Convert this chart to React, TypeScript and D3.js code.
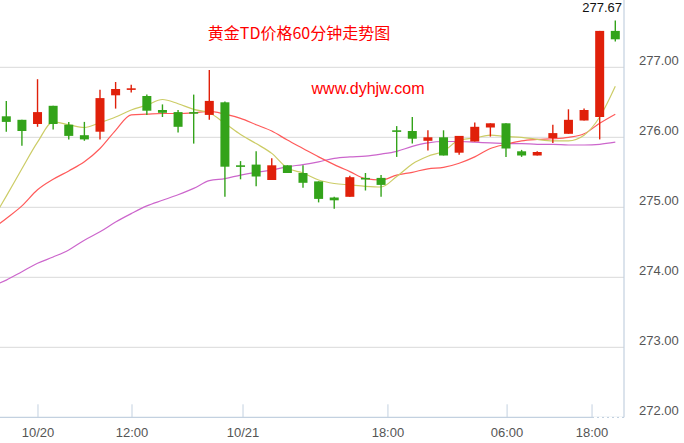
import React from "react";
import * as d3 from "d3";

// OHLC per 60-minute bar
const opens = [276.30, 276.25, 276.19, 276.45, 276.18, 276.03, 276.08, 276.60, 276.68, 276.59,
  276.39, 276.36, 276.36, 276.32, 276.50, 275.60, 275.61, 275.39, 275.60, 275.49,
  275.37, 275.14, 275.15, 275.42, 275.42, 276.10, 276.09, 275.95, 276.00, 275.78,
  275.94, 276.14, 276.20, 275.80, 275.74, 275.99, 276.05, 276.24, 276.29, 277.52];
const highs = [276.52, 276.25, 276.83, 276.45, 276.22, 276.22, 276.68, 276.79, 276.75, 276.61,
  276.47, 276.39, 276.61, 276.96, 276.51, 275.66, 275.80, 275.70, 275.60, 275.60,
  275.37, 275.15, 275.45, 275.49, 275.46, 276.16, 276.29, 276.10, 276.10, 276.02,
  276.21, 276.20, 276.20, 275.82, 275.80, 276.18, 276.40, 276.41, 277.52, 277.67];
const lows = [276.08, 275.88, 276.15, 276.11, 275.97, 275.95, 275.97, 276.41, 276.64, 276.32,
  276.29, 276.07, 275.91, 276.25, 275.15, 275.40, 275.30, 275.39, 275.49, 275.28,
  275.07, 274.98, 275.15, 275.24, 275.15, 275.72, 275.91, 275.81, 275.74, 275.75,
  275.94, 276.01, 275.72, 275.72, 275.74, 275.92, 276.05, 276.24, 275.97, 277.37];
const closes = [276.22, 276.09, 276.36, 276.19, 276.02, 275.97, 276.56, 276.69, 276.70, 276.38,
  276.35, 276.15, 276.34, 276.52, 275.58, 275.58, 275.44, 275.60, 275.49, 275.35,
  275.12, 275.10, 275.43, 275.41, 275.32, 276.08, 275.98, 276.00, 275.74, 276.02,
  276.15, 276.20, 275.84, 275.74, 275.79, 276.06, 276.25, 276.39, 277.52, 277.40];

// moving averages as drawn (first value is the bar just left of the window)
const ma5 = [274.78, 275.16, 275.55, 275.93, 276.22, 276.18, 276.14, 276.21, 276.29, 276.39,
  276.46, 276.54, 276.48, 276.40, 276.35, 276.20, 276.04, 275.91, 275.77, 275.56, 275.49,
  275.39, 275.34, 275.32, 275.30, 275.29, 275.44, 275.62, 275.73, 275.80, 275.96,
  275.99, 276.03, 276.01, 276.00, 275.97, 275.95, 275.95, 276.03, 276.29, 276.73];
const ma10 = [274.67, 274.84, 275.02, 275.25, 275.40, 275.52, 275.65, 275.84, 276.10, 276.32,
  276.33, 276.34, 276.34, 276.35, 276.37, 276.33, 276.27, 276.18, 276.09, 275.96, 275.84,
  275.72, 275.61, 275.51, 275.41, 275.39, 275.46, 275.50, 275.55, 275.57, 275.63,
  275.72, 275.84, 275.90, 275.95, 275.97, 275.98, 276.00, 276.05, 276.20, 276.33];
const ma20 = [273.87, 273.96, 274.08, 274.20, 274.29, 274.39, 274.53, 274.65, 274.79, 274.91,
  275.02, 275.10, 275.18, 275.27, 275.38, 275.41, 275.46, 275.50, 275.53, 275.58, 275.61,
  275.65, 275.70, 275.72, 275.73, 275.76, 275.80, 275.87, 275.92, 275.94, 275.94,
  275.93, 275.92, 275.91, 275.91, 275.90, 275.90, 275.89, 275.89, 275.90, 275.93];

const yTicks = [272, 273, 274, 275, 276, 277];
const xTickLabels = ["10/20", "12:00", "10/21", "18:00", "06:00", "18:00"];
const xTickPos = [2.03, 8.05, 15.16, 24.44, 32.07, 37.51]; // in bar units

const W = 684;
const H = 443;
const axisX = 624;
const axisY = 417.3;

const UP = "#e0200a";
const DOWN = "#33a31a";
const numFont = "'Liberation Sans', Arial, sans-serif";

export default function App() {
  const x = d3.scaleLinear().domain([0, opens.length - 1]).range([6.3, 615.3]);
  const y = d3.scaleLinear().domain([272, 277]).range([axisY, 67.3]);
  const bodyW = 9;

  const maLine = d3
    .line<number>()
    .x((_, i) => x(i - 1))
    .y((d) => y(d))
    .curve(d3.curveMonotoneX);

  const maxHigh = d3.max(highs) as number;

  return (
    <svg
      width={W}
      height={H}
      style={{ position: "absolute", left: 0, top: 0, background: "#fff" }}
    >
      <defs>
        <clipPath id="plot">
          <rect x={0} y={0} width={axisX} height={axisY} />
        </clipPath>
      </defs>

      {/* grid */}
      {yTicks.slice(1).map((t) => (
        <line key={t} x1={0} x2={axisX} y1={y(t)} y2={y(t)} stroke="#d9d9d9" strokeWidth={1} />
      ))}

      {/* titles */}
      <text x={299} y={39} textAnchor="middle" fill="#ff0000" fontSize={16}
        fontFamily="'Noto Sans CJK SC', sans-serif">黄金TD价格60分钟走势图</text>
      <text x={368} y={94} textAnchor="middle" fill="#ff0000" fontSize={16}
        fontFamily={numFont}>www.dyhjw.com</text>

      {/* moving averages */}
      <g clipPath="url(#plot)" fill="none" strokeWidth={1.2}>
        <path d={maLine(ma20) || ""} stroke="#cc66cc" />
        <path d={maLine(ma10) || ""} stroke="#ff5a5a" />
        <path d={maLine(ma5) || ""} stroke="#cccc66" />
      </g>

      {/* candles */}
      {opens.map((o, i) => {
        const c = closes[i];
        const col = c >= o ? UP : DOWN;
        const top = y(Math.max(o, c));
        const bh = Math.max(Math.abs(y(o) - y(c)), 1.6);
        const cx = x(i);
        return (
          <g key={i}>
            <line x1={cx} x2={cx} y1={y(highs[i])} y2={y(lows[i])} stroke={col} strokeWidth={1.4} />
            <rect x={cx - bodyW / 2} y={top} width={bodyW} height={bh} fill={col} />
          </g>
        );
      })}

      {/* axes */}
      <line x1={axisX} x2={axisX} y1={0} y2={axisY} stroke="#c3d1e0" strokeWidth={1.2} />
      <line x1={0} x2={axisX} y1={axisY} y2={axisY} stroke="#c3d1e0" strokeWidth={1.2} />
      <line x1={594} x2={623} y1={axisY} y2={axisY} stroke="#fff" strokeWidth={1.2} strokeDasharray="3,2" />

      {yTicks.map((t) => (
        <text key={t} x={639} y={y(t) - 2} fill="#555" fontSize={13} fontFamily={numFont}>
          {t.toFixed(2)}
        </text>
      ))}

      {xTickPos.map((p, i) => (
        <g key={i}>
          <line x1={x(p)} x2={x(p)} y1={axisY - 13} y2={axisY} stroke="#c3d1e0" strokeWidth={1} />
          <text x={x(p)} y={437} textAnchor="middle" fill="#555" fontSize={13} fontFamily={numFont}>
            {xTickLabels[i]}
          </text>
        </g>
      ))}

      {/* last high marker */}
      <text x={622} y={12} textAnchor="end" fill="#111" fontSize={13} fontFamily={numFont}>
        {maxHigh.toFixed(2)}
      </text>
    </svg>
  );
}
